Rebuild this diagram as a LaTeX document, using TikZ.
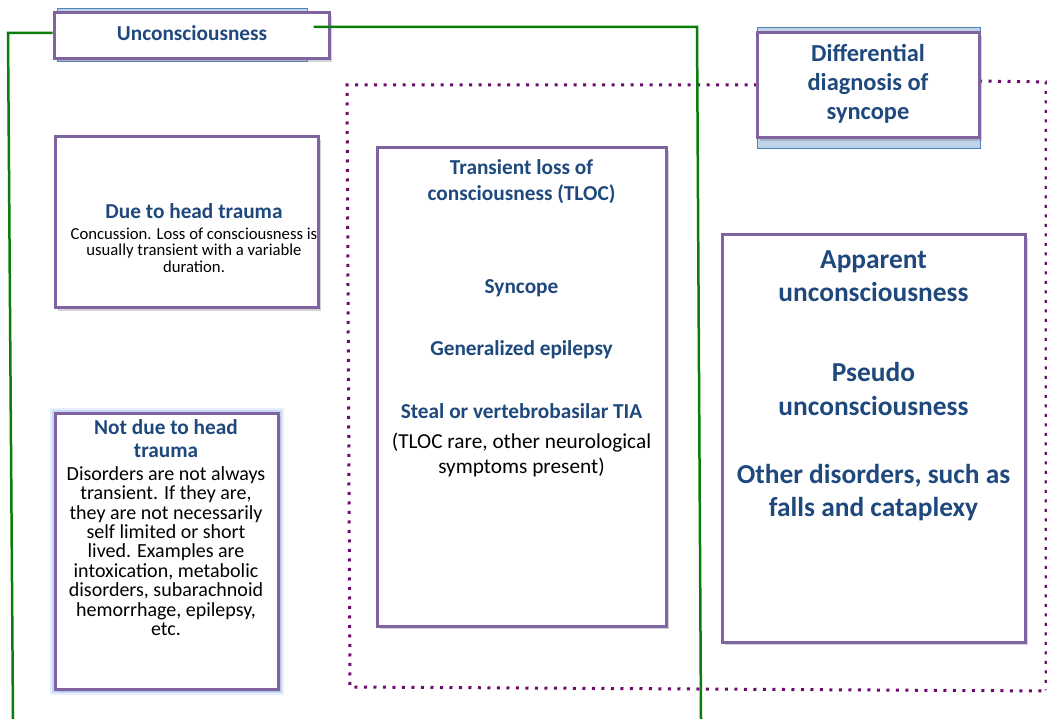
\documentclass[tikz,border=0pt]{standalone}
\usepackage{fontspec}
\setmainfont{Carlito}
\usetikzlibrary{shadows,calc}
\definecolor{boxline}{RGB}{128,100,162}
\definecolor{titleblue}{RGB}{31,73,125}
\definecolor{backfill}{RGB}{190,210,232}
\definecolor{backline}{RGB}{79,129,189}
\definecolor{glowblue}{RGB}{160,190,240}
\definecolor{branch}{RGB}{10,125,10}
\definecolor{ddxdots}{RGB}{110,10,110}

\begin{document}
\begin{tikzpicture}[x=1pt, y=-1pt,
    box/.style={draw=boxline, line width=3pt, fill=white,
        drop shadow={shadow xshift=3pt, shadow yshift=-3pt, opacity=0.35}},
    backbox/.style={draw=backline, line width=1pt, fill=backfill},
    title/.style={text=titleblue, align=center, inner sep=0pt,
        font=\bfseries\fontsize{21.3}{26}\selectfont},
    body/.style={text=black, align=center, inner sep=0pt,
        font=\fontsize{21.3}{25.5}\selectfont},
    tree/.style={draw=branch, line width=2.5pt},
    dots/.style={draw=ddxdots, line width=3pt, dash pattern=on 3pt off 6.5pt}]

    \useasboundingbox (0,0) rectangle (1047,719);

	% boxes behind the two headings
	\node[backbox, minimum width=250, minimum height=53] (unconback) at (182,35.5) {};
	\node[backbox, minimum width=223, minimum height=121] (ddxback) at (868.5,88.5) {};

	% dotted frame of the differential diagnosis
	\coordinate (dtl) at (347,85);
	\coordinate (dbl) at (350,687);
	\coordinate (dbr) at (1047,691);
	\coordinate (dtr) at (1046,82);
	\coordinate (dend) at (1046,690);
	\draw[dots] (757,85) -- (dtl) -- (dbl) -- (dbr);
	\draw[dots] (979,81) -- (dtr) -- (dend);

	\node[box, minimum width=275, minimum height=46] (uncon) at (191.5,36) {};
	\node[title] (uncontext) at (192,33) {Unconsciousness};

	\node[box, minimum width=222, minimum height=105] (ddx) at (868,85.5) {};
	\node[title, font=\bfseries\fontsize{24.4}{29}\selectfont] (ddxtext) at (868,84) {Differential\\diagnosis of\\syncope};

	% left branch
	\node[box, minimum width=263, minimum height=171] (head) at (186.5,222.5) {};
	\node[title] (headtitle) at (194,211) {Due to head trauma};
	\node[body, font=\fontsize{16.7}{16.5}\selectfont] (headbody) at (194,250) {Concussion. Loss of consciousness is\\usually transient with a variable\\duration.};

	\node[box, minimum width=223, minimum height=276,
	    preaction={draw=glowblue, line width=11pt, opacity=0.25},
	    preaction={draw=glowblue, line width=7pt, opacity=0.45}] (nothead) at (166.5,551) {};
	\node[title, font=\bfseries\fontsize{21.3}{23}\selectfont] (notheadtitle) at (166,439) {Not due to head\\trauma};
	\node[body, font=\fontsize{20}{19.4}\selectfont] (notheadbody) at (166,551) {Disorders are not always\\transient. If they are,\\they are not necessarily\\self limited or short\\lived. Examples are\\intoxication, metabolic\\disorders, subarachnoid\\hemorrhage, epilepsy,\\etc.};

	% middle
	\node[box, minimum width=289, minimum height=478] (tloc) at (521.5,387) {};
	\node[title] (tloctitle) at (521.5,182) {Transient loss of\\consciousness (TLOC)};
	\node[title] (syncope) at (521.5,288) {Syncope};
	\node[title] (epilepsy) at (521.5,350) {Generalized epilepsy};
	\node[title] (tia) at (521.5,411) {Steal or vertebrobasilar TIA};
	\node[body] (tiabody) at (521.5,455) {(TLOC rare, other neurological\\symptoms present)};

	% right
	\node[box, minimum width=303, minimum height=407] (appar) at (873.5,438.5) {};
	\node[title, font=\bfseries\fontsize{27.4}{33}\selectfont] (apparent) at (873.5,276) {Apparent\\unconsciousness};
	\node[title, font=\bfseries\fontsize{27.4}{34}\selectfont] (pseudo) at (873.5,389) {Pseudo\\unconsciousness};
	\node[title, font=\bfseries\fontsize{27.4}{33}\selectfont] (other) at (873.5,493) {Other disorders, such as\\falls and cataplexy};

	% green branches
	\coordinate (leftend) at (13,719);
	\coordinate (rightend) at (701,719);
	\draw[tree] (uncon.west |- 0,33) -- (8,33) -- (leftend);
	\draw[tree] ($(uncon.east)+(-17,-9)$) -- (697,27) -- (rightend);

\end{tikzpicture}
\end{document}
